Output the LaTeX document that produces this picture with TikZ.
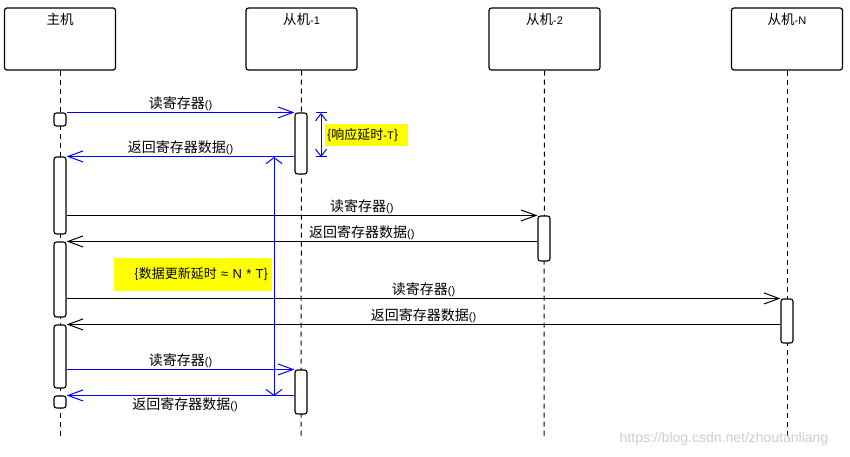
\documentclass[tikz,border=0pt]{standalone}
\usepackage{fontspec}
\setmainfont{Noto Sans CJK SC}
\newfontfamily\markfont{Liberation Sans}
\usepackage{tikz}
\usetikzlibrary{arrows.meta,calc,positioning}
\definecolor{noteyellow}{RGB}{255,255,0}
\definecolor{markgray}{RGB}{205,205,205}
\newcommand{\latn}[1]{{\markfont\fontsize{11}{11}\selectfont #1}}
\tikzset{%
	lifebox/.style  = {draw, rectangle, rounded corners=2.5pt, line width=1.2pt, minimum width=111pt, minimum height=62pt}, % Lifeline head
	headtxt/.style  = {anchor=north, inner sep=6pt, font=\fontsize{13.5}{13.5}\selectfont},
	lifeline/.style = {dash pattern=on 5pt off 4pt, line width=1pt},
	act/.style      = {draw, fill=white, rectangle, rounded corners=2.5pt, line width=1.1pt, minimum width=12pt, inner sep=0pt}, % Activation
	note/.style     = {fill=noteyellow, rectangle, inner sep=2pt, font=\fontsize{13}{13}\selectfont},
	msg/.style      = {line width=1pt, -{Straight Barb[length=15pt,width=11pt]}},
	msgb/.style     = {msg, draw=blue},
	lbl/.style      = {inner sep=1.5pt, font=\fontsize{14}{14}\selectfont},
	span/.style     = {draw=blue, line width=1pt},
}

\begin{document}
\begin{tikzpicture}[x=1pt,y=-1pt]
	\useasboundingbox (0,0) rectangle (850,457);

	% heads
	\node [lifebox] (host) at (60,39) {};
	\node [lifebox] (s1) at (301.5,39) {};
	\node [lifebox] (s2) at (544.5,39) {};
	\node [lifebox] (sn) at (787,39) {};
	\node [headtxt] (hostt) at (host.north) {主机};
	\node [headtxt] (s1t) at (s1.north) {从机\latn{-1}};
	\node [headtxt] (s2t) at (s2.north) {从机\latn{-2}};
	\node [headtxt] (snt) at (sn.north) {从机\latn{-N}};

	\coordinate (hostend) at (60,437);
	\coordinate (s1end) at (301,437);
	\coordinate (s2end) at (544,437);
	\coordinate (snend) at (787,437);
	\draw[lifeline] (host.south) -- (hostend);
	\draw[lifeline] (s1.south) -- (s1end);
	\draw[lifeline] (s2.south) -- (s2end);
	\draw[lifeline] (sn.south) -- (snend);

	% activations
	\node [act, minimum height=13pt] (h1) at (60,119.5) {};
	\node [act, minimum height=77pt] (h2) at (60,195.5) {};
	\node [act, minimum height=75pt] (h3) at (60,279.5) {};
	\node [act, minimum height=63pt] (h4) at (60,356.5) {};
	\node [act, minimum height=12pt] (h5) at (60,402) {};
	\node [act, minimum height=61pt] (s1a) at (301,143.5) {};
	\node [act, minimum height=44pt] (s1b) at (301,392) {};
	\node [act, minimum height=45pt] (s2a) at (544,238.5) {};
	\node [act, minimum height=44pt] (sna) at (787,321) {};

	% messages
	\draw[msgb] (h1.north east) -- node[lbl, above] {读寄存器\latn{()}} (s1a.north west);
	\draw[msgb] (s1a.west |- h2.north) -- node[lbl, above] {返回寄存器数据\latn{()}} (h2.north east);
	\draw[msg] (h2.east |- s2a.north) -- node[lbl, above, pos=0.627] {读寄存器\latn{()}} (s2a.north west);
	\draw[msg] (s2a.west |- h3.north) -- node[lbl, above, pos=0.373] {返回寄存器数据\latn{()}} (h3.north east);
	\draw[msg] (h3.east |- sna.north) -- node[lbl, above] {读寄存器\latn{()}} (sna.north west);
	\draw[msg] (sna.west |- h4.north) -- node[lbl, above] {返回寄存器数据\latn{()}} (h4.north east);
	\draw[msgb] (h4.east |- s1b.north) -- node[lbl, above] {读寄存器\latn{()}} (s1b.north west);
	\draw[msgb] (s1b.west |- h5.north) -- node[lbl, below, pos=0.48] {返回寄存器数据\latn{()}} (h5.north east);

	% response delay
	\coordinate (rt) at (321,113);
	\coordinate (rb) at (321,157);
	\draw[span, {Straight Barb[length=7pt,width=11pt]}-{Straight Barb[length=7pt,width=11pt]}] (rt) -- (rb);
	\draw[span] ([xshift=-5]rt) -- ([xshift=6]rt);
	\draw[span] ([xshift=-5]rb) -- ([xshift=6]rb);
	\node [note, text width=79pt, minimum height=22pt, align=left] (rdelay) at (366.5,135) {\{响应延时\latn{-T}\}};

	% update delay
	\coordinate (ut) at (274,157);
	\coordinate (ub) at (274,396);
	\draw[span, {Straight Barb[length=6pt,width=16pt]}-{Straight Barb[length=6pt,width=16pt]}] (ut) -- (ub);
	\node [note, text width=150pt, minimum height=33pt, inner sep=4pt, align=right] (udelay) at (193,274.5) {\{数据更新延时 {\markfont\fontsize{13}{13}\selectfont≈ N * T}\}};

	\node [text=markgray, font=\markfont\fontsize{14}{14}\selectfont, inner sep=0pt] (wm) at (724,439) {https://blog.csdn.net/zhoutanliang};
\end{tikzpicture}
\end{document}
